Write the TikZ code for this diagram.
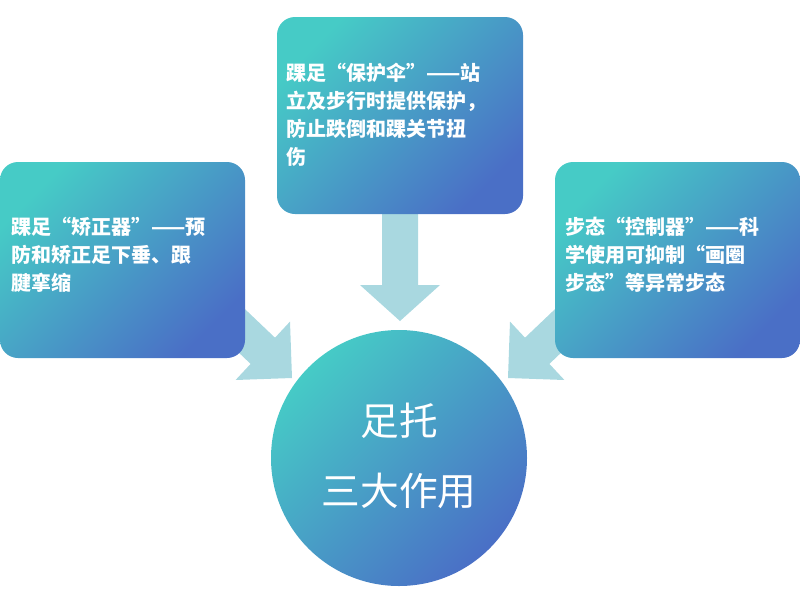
\documentclass[tikz,border=0pt]{standalone}
\usepackage{fontspec}
\setmainfont{Noto Sans CJK SC}
\usetikzlibrary{shadows}
\definecolor{tealc}{HTML}{46CBC6}
\definecolor{bluec}{HTML}{4A6FC6}
\definecolor{arrc}{HTML}{A9D8E0}
\tikzset{
  grad/.style={top color=tealc,bottom color=bluec,shading angle=45,draw=none},
  card/.style={grad,rounded corners=18*0.75pt},
  txt/.style={text=white,font=\fontsize{15}{21}\selectfont\bfseries,align=left,anchor=north west,inner sep=0pt},
  arr/.style={fill=arrc,draw=none}
}
\begin{document}
\begin{tikzpicture}[x=0.75pt,y=-0.75pt]
\useasboundingbox (0,0) rectangle (800,600);
% arrows
\fill[arr] (382,205) -- (418,205) -- (418,285) -- (440,285) -- (400,321) -- (360,285) -- (382,285) -- cycle;
\fill[arr] (206.8,322.1) -- (250.6,363.9) -- (235.6,380) -- (292,378) -- (290,321.6) -- (275,337.7) -- (231.2,296) -- cycle;
\fill[arr] (593.2,322.1) -- (549.4,363.9) -- (564.4,380) -- (508,378) -- (510,321.6) -- (525,337.7) -- (568.8,296) -- cycle;
% boxes
\path[card] (277,17) rectangle (523,214);
\path[card] (0,162) rectangle (245,358);
\path[card] (555,162) rectangle (800,358);
\path[grad] (399,458) circle (128);
\node[txt,text width=240*0.75pt] (t) at (286,63) {踝足“保护伞”——站\\立及步行时提供保护，\\防止跌倒和踝关节扭\\伤};
\node[txt,text width=240*0.75pt] (l) at (11,217) {踝足“矫正器”——预\\防和矫正足下垂、跟\\腱挛缩};
\node[txt,text width=240*0.75pt] (r) at (565,217) {步态“控制器”——科\\学使用可抑制“画圈\\步态”等异常步态};
\node[text=white,font=\fontsize{29}{52}\selectfont,align=center] (c) at (399,456) {足托\\三大作用};
\end{tikzpicture}
\end{document}
